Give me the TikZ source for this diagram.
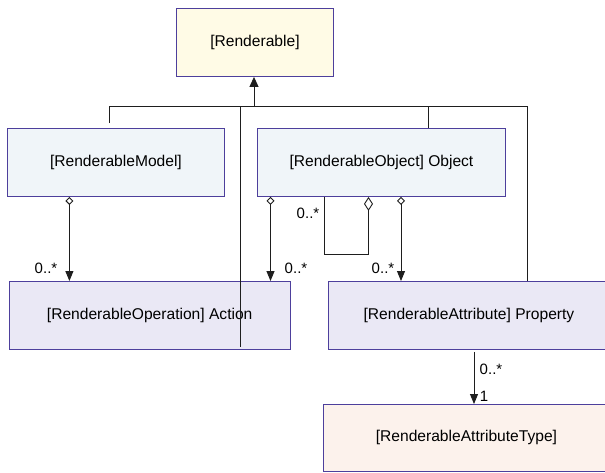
\documentclass[tikz,border=0pt]{standalone}
\usepackage{fontspec}
\setmainfont{Liberation Sans}
\usetikzlibrary{arrows.meta}
\definecolor{bord}{HTML}{4D3F9C}
\definecolor{fyel}{HTML}{FFFBE6}
\definecolor{fblu}{HTML}{F0F5F9}
\definecolor{fpur}{HTML}{EAE8F5}
\definecolor{forg}{HTML}{FCF2EC}
\definecolor{lncol}{HTML}{1E1E1E}
\tikzset{
  box/.style={draw=bord, line width=0.9pt, anchor=north west, inner sep=0pt,
    font=\fontsize{15.6}{18}\selectfont},
  ln/.style={draw=lncol, line width=0.9pt},
  lbl/.style={font=\fontsize{15}{17}\selectfont, inner sep=0pt},
  inh/.style={ln, -{Triangle[length=10pt,width=9pt]}},
  aggS/.style={ln, {Diamond[open,length=8pt,width=8pt]}-{Triangle[length=10pt,width=8pt]}},
  aggL/.style={ln, {Diamond[open,length=14pt,width=9pt]}-},
}
\begin{document}
\begin{tikzpicture}[x=1pt,y=-1pt]
\useasboundingbox (0,0) rectangle (605,472);
\fill[white] (0,0) rectangle (605,472);
% boxes
\node[box, fill=fyel, minimum width=157pt, minimum height=68pt] (rend) at (176,8) {[Renderable]};
\node[box, fill=fblu, minimum width=217pt, minimum height=68pt] (model) at (7,128) {[RenderableModel]};
\node[box, fill=fblu, minimum width=248pt, minimum height=68pt] (obj) at (257,128) {[RenderableObject] Object};
\node[box, fill=fpur, minimum width=281.5pt, minimum height=68pt] (act) at (8.5,281) {[RenderableOperation] Action};
\node[box, fill=fpur, minimum width=281pt, minimum height=68pt] (prop) at (328,281) {[RenderableAttribute] Property};
\node[box, fill=forg, minimum width=286pt, minimum height=67pt] (atype) at (323,404) {[RenderableAttributeType]};
% helper coordinates
\coordinate (bus) at (254,106.7);
\coordinate (m1) at (109,123);
\coordinate (a1) at (240,346.7);
\coordinate (px) at (527,0);
\coordinate (ox) at (428.6,0);
\coordinate (c1) at (69.4,0);
\coordinate (c2) at (270.5,0);
\coordinate (c3) at (401,0);
\coordinate (c4) at (324,0);
\coordinate (c5) at (368.5,0);
\coordinate (c6) at (474,0);
% inheritance
\draw[inh] (bus) -- (rend.south -| bus);
\draw[ln] (m1) |- (px |- bus) -- (prop.north -| px);
\draw[ln] (bus -| a1) -- (a1);
\draw[ln] (bus -| ox) -- (obj.north -| ox);
% aggregations
\draw[aggS] (model.south -| c1) -- (act.north -| c1);
\draw[aggS] (obj.south -| c2) -- (act.north -| c2);
\draw[aggS] (obj.south -| c3) -- (prop.north -| c3);
\draw[aggL] (obj.south -| c5) -- ++(0,58) -| (obj.south -| c4);
% association
\draw[ln, -{Triangle[length=10pt,width=8pt]}, shorten <=2pt] (prop.south -| c6) -- (atype.north -| c6);
% labels
\node[lbl] (l1) at (46,268) {0..*};
\node[lbl] (l2) at (296,268) {0..*};
\node[lbl] (l3) at (383,268) {0..*};
\node[lbl] (l4) at (308,213.5) {0..*};
\node[lbl] (l5) at (491,369) {0..*};
\node[lbl] (l6) at (484,396) {1};
\end{tikzpicture}
\end{document}
